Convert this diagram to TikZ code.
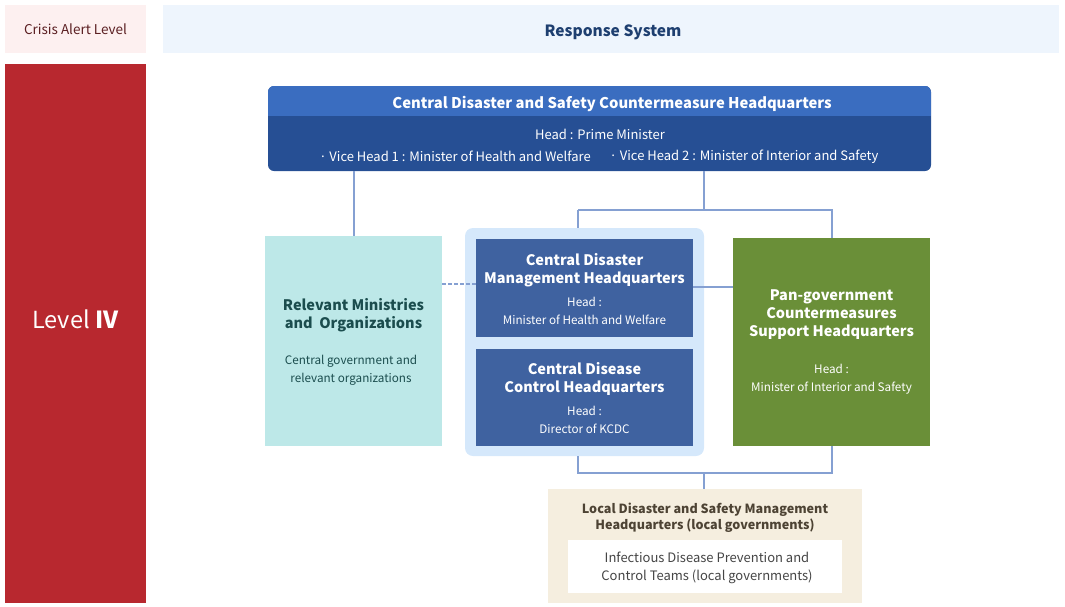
\documentclass[tikz,border=0pt]{standalone}
\usepackage{fontspec}
\setmainfont{Noto Sans CJK KR}
\usetikzlibrary{positioning,calc}
\definecolor{pinkbg}{HTML}{FDF0F0}
\definecolor{crisistxt}{HTML}{5B1F22}
\definecolor{respbg}{HTML}{EEF5FD}
\definecolor{resptxt}{HTML}{1E3F70}
\definecolor{levelred}{HTML}{B8282F}
\definecolor{headblue}{HTML}{3A6DC0}
\definecolor{bodyblue}{HTML}{264F94}
\definecolor{linecol}{HTML}{85A0D2}
\definecolor{tealbg}{HTML}{BDE8E8}
\definecolor{tealtxt}{HTML}{1B4D4E}
\definecolor{contbg}{HTML}{D5E8FB}
\definecolor{innerblue}{HTML}{3F62A0}
\definecolor{pangreen}{HTML}{6A8F38}
\definecolor{beigebg}{HTML}{F5EEDF}
\definecolor{beigetxt}{HTML}{4D4334}
\definecolor{greytxt}{HTML}{454545}
\tikzset{
  box/.style={rectangle, inner sep=0pt, outer sep=0pt},
  txt/.style={inner sep=0pt, outer sep=0pt, align=center, yshift=-1.8pt},
  conn/.style={draw=linecol, line width=2pt},
  ttl/.style={txt, font=\fontsize{14.5}{18}\selectfont\bfseries, text=white},
  sub/.style={txt, font=\fontsize{11.7}{18}\selectfont, text=white},
}
\begin{document}
\begin{tikzpicture}[x=1pt,y=-1pt]
\useasboundingbox (0,0) rectangle (1065,606);
% header row
\node[box, fill=pinkbg, minimum width=141pt, minimum height=48pt] (crisis) at (75.5,29) {};
\node[txt, text=crisistxt, font=\fontsize{13.5}{16}\selectfont] at (75.5,27.3) {Crisis Alert Level};
\node[box, fill=respbg, minimum width=896pt, minimum height=48pt] (resp) at (611,29) {};
\node[txt, text=resptxt, font=\fontsize{15.5}{18}\selectfont\bfseries] at (613,31) {Response System};
% level bar
\node[box, fill=levelred, minimum width=141pt, minimum height=539pt] (level) at (75.5,333.5) {};
\node[txt, text=white, font=\fontsize{23.5}{28}\selectfont] at (75.5,317) {Level \textbf{IV}};
% top box
\node[box, fill=bodyblue, rounded corners=6pt, minimum width=663pt, minimum height=85pt] (top) at (599.5,128.5) {};
\begin{scope}
\clip[rounded corners=6pt] (268,86) rectangle (931,171);
\fill[headblue] (268,86) rectangle (931,116);
\end{scope}
\node[ttl, font=\fontsize{14.8}{18}\selectfont\bfseries] at (612,102) {Central Disaster and Safety Countermeasure Headquarters};
\node[sub, font=\fontsize{13}{16}\selectfont] at (600,133) {Head : Prime Minister};
\node[sub, font=\fontsize{13}{16}\selectfont] at (455,155) {· Vice Head 1 : Minister of Health and Welfare};
\node[sub, font=\fontsize{13}{16}\selectfont] at (744,155) {· Vice Head 2 : Minister of Interior and Safety};
% relevant ministries
\node[box, fill=tealbg, minimum width=177pt, minimum height=210pt] (rel) at (353.5,341) {};
\node[txt, text=tealtxt, font=\fontsize{14.5}{18}\selectfont\bfseries] at (353.5,313) {Relevant Ministries\\and~~Organizations};
\node[txt, text=tealtxt, font=\fontsize{11.7}{18}\selectfont] at (351,368) {Central government and\\relevant organizations};
% container
\node[box, fill=contbg, rounded corners=8pt, minimum width=239pt, minimum height=228pt] (cont) at (584.5,342) {};
\node[box, fill=innerblue, minimum width=217pt, minimum height=98pt] (cdmh) at (584.5,288) {};
\node[ttl] at (584.5,268) {Central Disaster\\Management Headquarters};
\node[sub] at (584.5,309) {Head :\\Minister of Health and Welfare};
\node[box, fill=innerblue, minimum width=217pt, minimum height=97pt] (cdch) at (584.5,397.5) {};
\node[ttl] at (584.5,377) {Central Disease\\Control Headquarters};
\node[sub] at (584.5,418) {Head :\\Director of KCDC};
% pan-government
\node[box, fill=pangreen, minimum width=197pt, minimum height=208pt] (pan) at (831.5,342) {};
\node[ttl] at (831.5,313) {Pan-government\\Countermeasures\\Support Headquarters};
\node[sub] at (831.5,377) {Head :\\Minister of Interior and Safety};
% local
\node[box, fill=beigebg, minimum width=314pt, minimum height=114pt] (loc) at (705,546) {};
\node[txt, text=beigetxt, font=\fontsize{12.6}{16}\selectfont\bfseries] at (705,516) {Local Disaster and Safety Management\\Headquarters (local governments)};
\node[box, fill=white, minimum width=274pt, minimum height=53pt] (team) at (705,566.5) {};
\node[txt, text=greytxt, font=\fontsize{13}{18}\selectfont] at (707,566.5) {Infectious Disease Prevention and\\Control Teams (local governments)};
% connectors
\coordinate (tsplit) at (704,171);
\coordinate (jtop) at (704,210);
\coordinate (cleft) at (578,210);
\coordinate (cbot) at (578,456);
\coordinate (jbot) at (704,473);
\draw[conn] (top.south -| rel.north) -- (rel.north);
\draw[conn] (tsplit) -- (jtop);
\draw[conn] (cleft) -- (cleft |- cont.north);
\draw[conn] (cleft) -- (cleft -| pan.north) -- (pan.north);
\draw[conn] (cbot) |- (jbot -| pan.south) -- (pan.south);
\draw[conn] (jbot) -- (jbot |- loc.north);
\draw[conn] (cdmh.east |- 0,287) -- (pan.west |- 0,287);
\draw[linecol, line width=2pt, dash pattern=on 4pt off 2pt] (rel.east |- 0,284) -- (cdmh.west |- 0,284);
\end{tikzpicture}
\end{document}
